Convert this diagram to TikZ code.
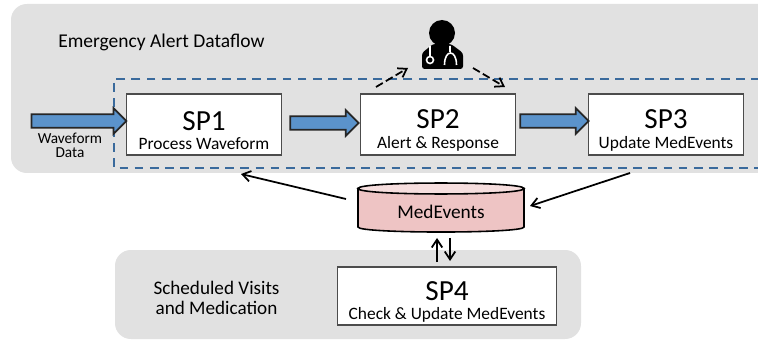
\documentclass[tikz,border=0pt]{standalone}
\usepackage{fontspec}
\setmainfont{Carlito}
\usetikzlibrary{arrows.meta,shapes.arrows}
\definecolor{panelgray}{HTML}{E1E1E1}
\definecolor{flowblue}{HTML}{5B93CB}
\definecolor{dashblue}{HTML}{3A6A9C}
\definecolor{dbbody}{HTML}{EEC4C4}
\definecolor{dbtop}{HTML}{F6DEDE}
\tikzset{
  panel/.style={fill=panelgray, rounded corners=9pt},
  procbox/.style={draw=black!70, fill=white, line width=0.7pt, minimum width=88.5pt, minimum height=34.6pt, inner sep=0pt, align=center},
  flowarrow/.style={single arrow, draw=black!85, fill=flowblue, line width=1pt, minimum height=#1, inner xsep=0pt, inner ysep=3.4pt, single arrow head extend=3.4pt, anchor=center},
  plainarrow/.style={-{Straight Barb[length=4.5pt,width=6pt]}, line width=1pt},
  dasharrow/.style={-{Straight Barb[length=4.5pt,width=6pt]}, line width=1pt, dash pattern=on 4.5pt off 2pt},
}
\newcommand{\boxtext}[2]{\rule{0pt}{17.5pt}\fontsize{16.6}{19}\selectfont #1\\[-1pt]\fontsize{9.9}{12}\selectfont #2}
\begin{document}
\begin{tikzpicture}[x=0.02cm,y=-0.02cm]
  \useasboundingbox[clip] (0,0) rectangle (758,341);
  % Panels
  \fill[panel] (11,4) rectangle (790,173);
  \fill[panel] (115,250) rectangle (581,339);
  \draw[dashblue, line width=1pt, dash pattern=on 5pt off 3.6pt] (790,79) -- (114,79) -- (114,168) -- (790,168);
  % Nodes
  \node[anchor=west, inner sep=0pt, font=\fontsize{11.1}{13}\selectfont] (title) at (58,42) {Emergency Alert Dataflow};
  \node[procbox] (sp1) at (204,124.5) {\boxtext{SP1}{Process Waveform}};
  \node[procbox] (sp2) at (438,124.5) {\boxtext{SP2}{Alert \& Response}};
  \node[procbox] (sp3) at (666,124.5) {\boxtext{SP3}{Update MedEvents}};
  \node[procbox, minimum width=124.7pt, minimum height=33pt] (sp4) at (447,296) {\boxtext{SP4}{Check \& Update MedEvents}};
  % Cylinder
  \path[fill=dbbody, draw=black, line width=0.9pt] (358,188.5) -- (358,227) .. controls (358,233.7) and (524,233.7) .. (524,227) -- (524,188.5) -- cycle;
  \path[fill=dbtop, draw=black, line width=0.9pt] (358,188.5) .. controls (358,181.2) and (524,181.2) .. (524,188.5) .. controls (524,195.8) and (358,195.8) .. (358,188.5) -- cycle;
  \node[font=\fontsize{11}{13}\selectfont] (dblabel) at (441,212) {MedEvents};
  \node[align=center, font=\fontsize{8.7}{8}\selectfont] (wavelabel) at (70,145) {Waveform\\Data};
  \node[align=center, font=\fontsize{10.9}{11.3}\selectfont] (sched) at (216.5,298) {Scheduled Visits\\and Medication};
  \node[flowarrow=54pt] (in1) at (75.5,121) {};
  \node[flowarrow=39pt] (f12) at (321,123) {};
  \node[flowarrow=39pt] (f23) at (551,121) {};
  % Doctor icon
  \fill (442,33) circle (13);
  \fill[rounded corners=1.5pt] (422,69) -- (422,53) -- (433,44) -- (451,44) -- (463,53) -- (463,69) -- cycle;
  \draw[white, line width=0.9pt] (430,46) -- (430,56);
  \draw[white, line width=0.9pt] (430,60) circle (3.5);
  \draw[white, line width=0.9pt] (450,46) -- (450,52) (444.5,65) .. controls (444.5,49) and (456.5,49) .. (456.5,65);
  % Edges
  \coordinate (up1) at (376,87);
  \coordinate (up2) at (408,68);
  \coordinate (dn1) at (473,68);
  \coordinate (dn2) at (505,87);
  \draw[dasharrow] (up1) -- (up2);
  \draw[dasharrow] (dn1) -- (dn2);
  \coordinate (a1) at (346,199);
  \coordinate (a2) at (241,174);
  \coordinate (b1) at (630,173);
  \coordinate (b2) at (530,206);
  \draw[plainarrow] (a1) -- (a2);
  \draw[plainarrow] (b1) -- (b2);
  \coordinate (u1) at (437,262);
  \coordinate (u2) at (437,238);
  \coordinate (d1) at (450,238);
  \coordinate (d2) at (450,261);
  \draw[plainarrow] (u1) -- (u2);
  \draw[plainarrow] (d1) -- (d2);
\end{tikzpicture}
\end{document}
